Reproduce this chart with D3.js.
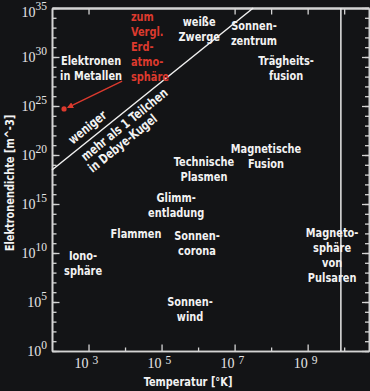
<!DOCTYPE html>
<html>
<head>
<meta charset="utf-8">
<script src="https://cdn.jsdelivr.net/npm/d3@7"></script>
<style>
html, body { margin: 0; padding: 0; background: #131416; }
svg { display: block; }
.lbl { font-family: "Liberation Sans Narrow", "DejaVu Sans Condensed", "DejaVu Sans", sans-serif; font-weight: bold; font-size: 13px; fill: #f2f2f2; }
.num { font-family: "Liberation Serif", "Times New Roman", serif; fill: #e6e6e6; }
.axis path, .axis line { stroke: #d4d4d4; }
</style>
</head>
<body>
<script>

// exponents (log10) for ticks
var yMajor = [0, 5, 10, 15, 20, 25, 30, 35]
var yMinor = d3.range(0, 36)
var xMajor = [3, 5, 7, 9]
var xMinor = [4, 6, 8, 10]
var topTicks = [3, 7, 8, 9, 10]

// regions: label lines, log10 temperature, log10 density
var regionNames = [
  ["weiße", "Zwerge"],
  ["Sonnen-", "zentrum"],
  ["Trägheits-", "fusion"],
  ["Magnetische", "Fusion"],
  ["Technische", "Plasmen"],
  ["Glimm-", "entladung"],
  ["Flammen"],
  ["Sonnen-", "corona"],
  ["Iono-", "sphäre"],
  ["Sonnen-", "wind"],
  ["Magneto-", "sphäre", "von", "Pulsaren"],
  ["Elektronen", "in Metallen"]
]
var regionT = [6.03, 7.53, 8.41, 7.86, 6.16, 5.40, 4.30, 5.97, 2.85, 5.78, 9.67, 3.07]
var regionN = [32.86, 32.4, 28.83, 19.85, 18.52, 14.85, 11.94, 11.02, 8.98, 4.23, 9.74, 28.83]

// comparison note (red)
var noteLines = ["zum", "Vergl.", "Erd-", "atmo-", "sphäre"]
var noteT = 4.16, noteN = 31.07
var atmoT = 2.33, atmoN = 24.7        // red dot
var arrowFromT = 3.92, arrowFromN = 27.55

// Debye line N_D = 1 (n ~ T^3)
var lineT = [2, 7.51]
var lineN = [18.47, 35]
// pulsar vertical line
var pulsarT = 9.91

var W = 370, H = 391
var mLeft = 52, mRight = 369, mTop = 8, mBottom = 351
var sx = 0.84   // squeeze for the condensed look
var p = function(v) { return Math.pow(10, v) }

var x = d3.scaleLog().domain([p(2), p(10.68)]).range([mLeft, mRight])
var y = d3.scaleLog().domain([p(0), p(35)]).range([mBottom, mTop])

var svg = d3.select("body").append("svg")
    .attr("width", W)
    .attr("height", H)

svg.append("rect").attr("width", W).attr("height", H).attr("fill", "#131416")

// axes
function ax(gen, vals, size, tr) {
  var g = svg.append("g").attr("class", "axis").attr("transform", tr)
    .call(gen.tickValues(vals.map(p)).tickSize(size).tickSizeOuter(0).tickFormat(""))
  g.selectAll("line").attr("stroke-width", 1.3)
  g.select(".domain").attr("stroke-width", 1.6)
  return g
}
ax(d3.axisLeft(y), yMinor, -4.5, "translate(" + mLeft + ",0)")
ax(d3.axisLeft(y), yMajor, -7.5, "translate(" + mLeft + ",0)")
ax(d3.axisRight(y), yMinor, -4, "translate(" + mRight + ",0)")
ax(d3.axisRight(y), yMajor, -7, "translate(" + mRight + ",0)")
ax(d3.axisBottom(x), xMinor, -3.5, "translate(0," + mBottom + ")")
ax(d3.axisBottom(x), xMajor, -6.5, "translate(0," + mBottom + ")")
ax(d3.axisTop(x), topTicks, -6.5, "translate(0," + mTop + ")").select(".domain").attr("stroke-width", 2.6)

// y tick labels
var yl = svg.selectAll(".ylab").data(yMajor).enter().append("text")
    .attr("class", "num")
    .attr("x", 47)
    .attr("y", function(d) { return Math.max(y(p(d)), 12) + 4.8 })
    .attr("text-anchor", "end")
    .style("font-size", "14px")
yl.append("tspan").text("10")
yl.append("tspan").attr("dy", -6.5).style("font-size", "11.5px").text(function(d) { return d })

// x tick labels
var xl = svg.selectAll(".xlab").data(xMajor).enter().append("text")
    .attr("class", "num")
    .attr("x", function(d) { return x(p(d)) - 14 })
    .attr("y", 367.5)
    .style("font-size", "14px")
xl.append("tspan").text("10")
xl.append("tspan").attr("dx", 4).attr("dy", -4).style("font-size", "11.5px").text(function(d) { return d })

// multi-line condensed label
function label(lines, cx, cy, anchor, rot, color) {
  var t = svg.append("text").attr("class", "lbl")
    .attr("transform", "translate(" + cx + "," + cy + ") rotate(" + (rot || 0) + ") scale(" + sx + ",1)")
    .attr("text-anchor", anchor)
  if (color) t.style("fill", color)
  lines.forEach(function(s, j) {
    t.append("tspan").attr("x", 0)
      .attr("y", (j - (lines.length - 1) / 2) * 15)
      .attr("dominant-baseline", "central")
      .text(s)
  })
  return t
}

// axis titles
label(["Elektronendichte [m^-3]"], 10, 183, "middle", -90)
label(["Temperatur [°K]"], 188, 382, "middle")

// Debye line
var slope = (lineN[1] - lineN[0]) / (lineT[1] - lineT[0])
function onLine(t) { return [x(p(t)), y(p(lineN[0] + slope * (t - lineT[0])))] }
svg.append("line")
    .attr("x1", x(p(lineT[0]))).attr("y1", y(p(lineN[0])))
    .attr("x2", x(p(lineT[1]))).attr("y2", y(p(lineN[1])))
    .attr("stroke", "#f0f0f0").attr("stroke-width", 1.5)

// pulsar line
svg.append("line")
    .attr("x1", x(p(pulsarT))).attr("x2", x(p(pulsarT)))
    .attr("y1", y(p(0))).attr("y2", y(p(35)))
    .attr("stroke", "#e8e8e8").attr("stroke-width", 1.5)

var a0 = onLine(lineT[0]), a1 = onLine(lineT[1])
var angle = Math.atan2(a1[1] - a0[1], a1[0] - a0[0]) * 180 / Math.PI
var rad = angle * Math.PI / 180
var lineLabels = [["weniger", 3.16, -11], ["mehr als 1 Teilchen", 3.81, 10], ["in Debye-Kugel", 3.53, 23.5]]
lineLabels.forEach(function(l) {
  var pt = onLine(l[1])
  // offset perpendicular to the line
  var ox = -Math.sin(rad) * l[2], oy = Math.cos(rad) * l[2]
  label([l[0]], pt[0] + ox, pt[1] + oy, "middle", angle)
})

// red arrow + dot
var red = "#dc3a2e"
svg.append("defs").append("marker")
    .attr("id", "head").attr("viewBox", "0 0 10 10")
    .attr("refX", 8).attr("refY", 5)
    .attr("markerWidth", 4.5).attr("markerHeight", 4.5)
    .attr("orient", "auto")
  .append("path").attr("d", "M0,0L10,5L0,10Z").attr("fill", red)
var dot = [x(p(atmoT)), y(p(atmoN))]
var from = [x(p(arrowFromT)), y(p(arrowFromN))]
svg.append("line")
    .attr("x1", from[0]).attr("y1", from[1])
    .attr("x2", dot[0] + 4).attr("y2", dot[1] - 1.6)
    .attr("stroke", red).attr("stroke-width", 1.4)
    .attr("marker-end", "url(#head)")
svg.append("circle").attr("cx", dot[0]).attr("cy", dot[1]).attr("r", 2.6).attr("fill", red)

// region labels
regionNames.forEach(function(lines, i) {
  label(lines, x(p(regionT[i])), y(p(regionN[i])), "middle")
})

// red note
label(noteLines, x(p(noteT)), y(p(noteN)), "start", 0, red)

</script>
</body>
</html>
